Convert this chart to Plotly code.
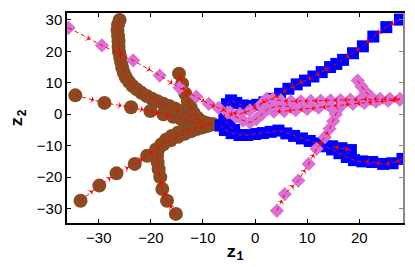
import math
import plotly.graph_objects as go

# ---------------- data ----------------
# brown circle trajectories
br1_x = [-26.0,-26.3,-26.4,-26.3,-26.2,-26.2,-26.1,-25.9,-25.7,-25.5,-25.2,-24.8,-24.2,-23.5,-22.7,-21.8,-20.8,-19.8,-18.7,-17.6,-16.5,-15.4,-14.4,-13.5,-12.6,-11.8,-11.0,-10.2,-9.5,-8.8,-8.0]
br1_y = [30.0,28.5,26.8,25.0,23.2,21.5,19.8,18.2,16.5,14.8,13.2,11.7,10.3,9.0,7.9,6.8,5.8,4.9,4.1,3.3,2.6,1.8,1.0,0.2,-0.5,-1.2,-1.8,-2.3,-2.7,-3.0,-3.2]
br2_x = [-34.5,-28.9,-23.8,-20.1,-17.6,-15.7,-14.2,-12.9,-11.7,-10.6,-9.6,-8.8]
br2_y = [6.0,3.6,2.2,1.0,0.0,-0.8,-1.5,-2.1,-2.6,-3.0,-3.3,-3.5]
br3_x = [-33.5,-29.9,-26.6,-23.1,-20.7,-19.0,-17.6,-16.2,-14.8,-13.5,-12.3,-11.2,-10.2,-9.3]
br3_y = [-27.5,-22.7,-18.8,-15.8,-13.2,-11.2,-9.6,-8.3,-7.2,-6.2,-5.4,-4.7,-4.2,-3.8]
br4_x = [-15.2,-16.9,-17.8,-18.2,-18.5,-18.7,-18.8,-18.6,-18.0,-17.1,-16.0,-14.8,-13.6,-12.4,-11.3,-10.3,-9.4]
br4_y = [-31.7,-27.5,-23.8,-20.0,-17.5,-15.3,-13.2,-11.3,-9.6,-8.1,-6.9,-5.9,-5.1,-4.5,-4.0,-3.7,-3.5]
br5_x = [-14.6,-14.0,-13.4,-12.9,-12.4,-11.8,-11.0,-10.2]
br5_y = [12.9,9.7,6.5,4.2,2.2,0.4,-1.2,-2.4]

# blue square trajectories
bl1_x = [27.8,25.2,22.7,20.7,18.8,16.9,15.6,14.4,12.8,11.2,9.6,8.0,6.4,4.8,3.2,1.8,0.4,-1.0,-2.4,-3.6,-4.6,-5.4,-5.8,-5.9,-5.6,-5.0,-4.0]
bl1_y = [30.1,27.7,24.7,21.6,19.4,17.3,16.0,15.0,13.4,12.0,10.7,9.5,8.1,6.5,4.9,3.8,3.0,2.6,2.8,3.6,4.4,3.2,1.4,-0.4,-2.2,-3.8,-5.0]
bl2_x = [28.3,26.4,24.6,22.5,20.6,19.0,17.6,16.2,14.8,13.4,12.0,10.5,9.0,7.5,6.0,4.5,3.0,1.5,0.0,-1.5,-3.0,-4.5,-5.8,-6.6]
bl2_y = [-14.2,-15.6,-15.8,-15.2,-15.0,-14.6,-13.6,-12.4,-11.2,-10.2,-9.3,-8.5,-7.7,-6.9,-6.1,-5.2,-5.6,-6.0,-6.3,-6.6,-6.6,-6.0,-5.0,-3.6]
bl3_x = [18.4,16.6,14.8]
bl3_y = [-11.4,-10.8,-10.2]

# violet diamond trajectories
vi1_x = [-35.8,-29.4,-23.4,-18.3,-14.5,-11.3,-8.9,-7.0,-5.3,-3.7,-2.3,-1.0,0.2,1.3,2.4,3.8,5.3,6.8]
vi1_y = [27.5,21.9,17.1,12.3,8.4,5.6,3.3,2.0,0.6,-0.8,-2.0,-2.6,-1.6,0.0,1.6,2.4,2.6,2.4]
vi2_x = [27.8,25.9,24.0,22.1,20.2,18.3,16.4,14.5,12.6,10.7,8.8,6.9,5.0,3.4,2.2,1.0,-1.0,-2.9,-4.8]
vi2_y = [4.9,4.9,4.9,4.8,4.7,4.6,4.5,4.4,4.3,4.2,4.1,4.1,4.3,4.8,4.9,2.8,1.2,0.1,0.6]
vi3_x = [27.8,25.5,23.2,21.0,18.8,16.6,14.4,12.2,10.0,7.8,5.6,3.6]
vi3_y = [4.6,4.3,4.0,3.6,3.3,2.9,2.5,2.1,1.7,1.3,1.0,0.8]
vi4_x = [4.2,5.7,8.3,10.3,11.8,13.4,14.3,15.0,15.5,16.0]
vi4_y = [-30.7,-25.4,-21.1,-15.8,-11.0,-7.3,-4.6,-2.2,0.0,1.8]
vi5_x = [19.7,20.4,21.2,22.2]
vi5_y = [10.7,8.9,7.2,5.6]

x_range = [-36.1, 28.4]
y_range = [-34.6, 32.2]
x_ticks = [-30, -20, -10, 0, 10, 20]
y_ticks = [-30, -20, -10, 0, 10, 20, 30]

# ---------------- figure ----------------
BROWN = "#8B4A22"
BLUE = "#0000FF"
VIOLET = "#DA70D6"

groups = [
    (BROWN, "circle", 14, [(br1_x, br1_y), (br2_x, br2_y), (br3_x, br3_y), (br4_x, br4_y), (br5_x, br5_y)]),
    (BLUE, "square", 12, [(bl1_x, bl1_y), (bl2_x, bl2_y), (bl3_x, bl3_y)]),
    (VIOLET, "diamond", 11, [(vi1_x, vi1_y), (vi2_x, vi2_y), (vi3_x, vi3_y), (vi4_x, vi4_y), (vi5_x, vi5_y)]),
]

fig = go.Figure()
for color, sym, size, trajs in groups:
    for tx, ty in trajs:
        fig.add_trace(go.Scatter(x=tx, y=ty, mode="markers",
                                 marker=dict(symbol=sym, size=size, color=color, line=dict(width=0)),
                                 showlegend=False, hoverinfo="skip"))

W, H = 336, 210
sx = W / (x_range[1] - x_range[0])
sy = H / (y_range[1] - y_range[0])
ax_, ay_, ang_ = [], [], []
for color, sym, size, trajs in groups:
    for tx, ty in trajs:
        fig.add_trace(go.Scatter(x=tx, y=ty, mode="lines",
                                 line=dict(color="red", width=1, dash="4px,3px"),
                                 showlegend=False, hoverinfo="skip"))
        for i in range(len(tx) - 1):
            dx, dy = tx[i + 1] - tx[i], ty[i + 1] - ty[i]
            if math.hypot(dx * sx, dy * sy) > 9:
                ax_.append(tx[i] + 0.65 * dx)
                ay_.append(ty[i] + 0.65 * dy)
                ang_.append(math.degrees(math.atan2(dx * sx, dy * sy)))

fig.add_trace(go.Scatter(x=ax_, y=ay_, mode="markers",
                         marker=dict(symbol="arrow-wide", size=6, angle=ang_, color="red",
                                     line=dict(width=0)),
                         showlegend=False, hoverinfo="skip"))

# invisible trace on the right-hand axis so it is drawn
fig.add_trace(go.Scatter(x=[x_range[0]], y=[y_range[0]], yaxis="y2", mode="markers",
                         marker=dict(opacity=0), showlegend=False, hoverinfo="skip"))

tickfont = dict(family="Liberation Sans, Arial, sans-serif", size=15, color="black")
titlefont = dict(family="Liberation Mono, Courier New, monospace", size=17, color="black")
# the page body adds an 8px offset, so the figure is drawn 8px smaller
fig.update_layout(
    width=407, height=259,
    margin=dict(l=59, r=12, t=5, b=44, autoexpand=False),
    paper_bgcolor="white", plot_bgcolor="white",
    showlegend=False,
    xaxis=dict(range=x_range, tickvals=x_ticks, ticks="inside", ticklen=4, tickcolor="black",
               showline=True, linecolor="black", linewidth=1.5, mirror="ticks",
               showgrid=False, zeroline=False, tickfont=tickfont, automargin=False,
               title=dict(text="<b>z</b><b><sub>1</sub></b>", font=titlefont, standoff=0)),
    yaxis=dict(range=y_range, tickvals=y_ticks, ticks="inside", ticklen=4, tickcolor="black",
               showline=True, linecolor="black", linewidth=1.5, mirror=False,
               showgrid=False, zeroline=False, tickfont=tickfont, automargin=False,
               title=dict(text="<b>z</b><b><sub>2</sub></b>", font=titlefont, standoff=18)),
    yaxis2=dict(range=y_range, tickvals=y_ticks, overlaying="y", side="right", ticks="inside", ticklen=4,
                tickcolor="#888888", showline=True, linecolor="#888888", linewidth=1.5,
                showticklabels=False, showgrid=False, zeroline=False, automargin=False),
)

fig.write_html("out.html")
